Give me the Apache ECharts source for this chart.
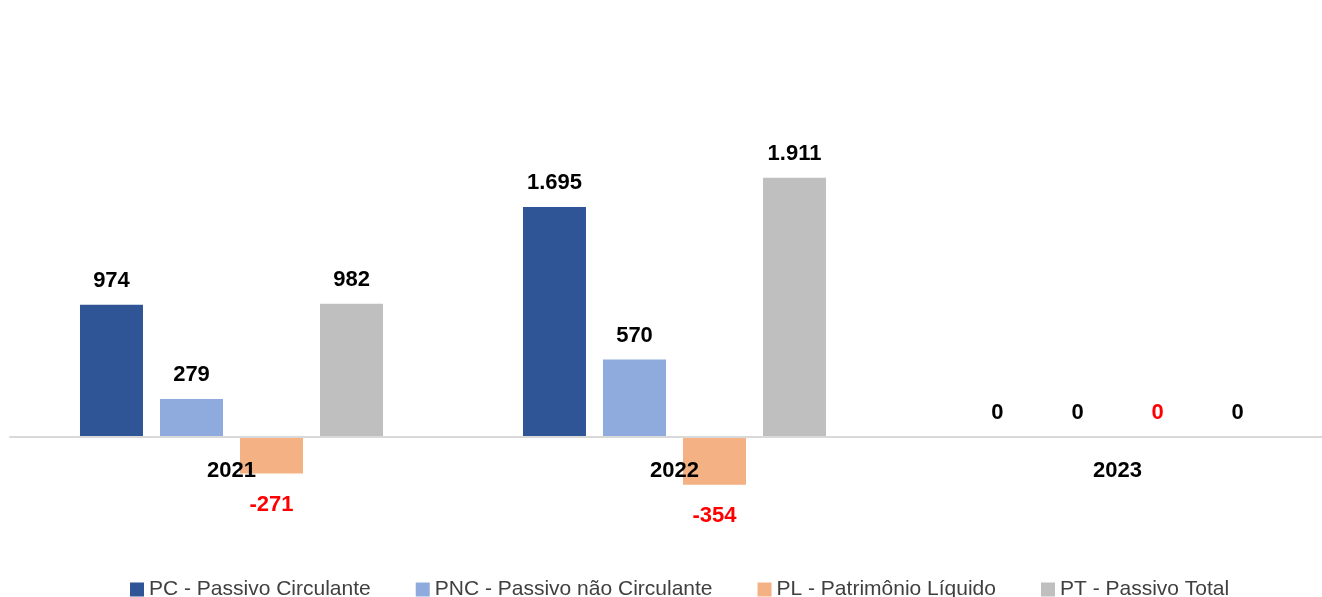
<!DOCTYPE html>
<html>
<head>
<meta charset="utf-8">
<script src="https://cdn.jsdelivr.net/npm/echarts@6/dist/echarts.min.js"></script>
<style>
  html, body { margin: 0; padding: 0; background: #fff; overflow: hidden; }
  #chart { width: 1345px; height: 597px; }
</style>
</head>
<body>
<div id="chart"></div>
<script>
const years = ["2021", "2022", "2023"];
const pcValues = [974, 1695, 0];
const pncValues = [279, 570, 0];
const plValues = [-271, -354, 0];
const ptValues = [982, 1911, 0];

const seriesNames = [
  "PC - Passivo Circulante",
  "PNC - Passivo não Circulante",
  "PL - Patrimônio Líquido",
  "PT - Passivo Total"
];
const seriesColors = ["#2F5597", "#8FAADC", "#F4B183", "#BFBFBF"];

const FONT = "Liberation Sans";

// pt-BR thousands separator
function fmt(v) {
  const neg = v < 0;
  let s = String(Math.abs(v));
  s = s.replace(/\B(?=(\d{3})+(?!\d))/g, ".");
  return (neg ? "-" : "") + s;
}

function makeSeries(name, values, color, labelColor) {
  return {
    type: "bar",
    name: name,
    barWidth: 63,
    barGap: "27%",
    itemStyle: { color: color },
    data: values.map((v) => ({
      value: v,
      label: v < 0 ? { position: "bottom", distance: 20 } : { position: "top", distance: 13 }
    })),
    label: {
      show: true,
      color: labelColor,
      fontFamily: FONT,
      fontWeight: "bold",
      fontSize: 22,
      formatter: (p) => fmt(p.value)
    }
  };
}

const option = {
  animation: false,
  grid: { left: 10, top: 98, width: 1329, height: 406.6, containLabel: false },
  legend: {
    left: 125,
    top: 574,
    icon: "rect",
    itemWidth: 14,
    itemHeight: 14,
    itemGap: 45,
    textStyle: { fontFamily: FONT, fontSize: 21, color: "#404040" },
    data: seriesNames
  },
  xAxis: {
    type: "category",
    data: years,
    z: 3,
    axisLine: { lineStyle: { color: "#D9D9D9", width: 2 } },
    axisTick: { show: false },
    axisLabel: {
      margin: -45,
      color: "#000",
      fontFamily: FONT,
      fontWeight: "bold",
      fontSize: 22
    }
  },
  yAxis: {
    type: "value",
    min: -500,
    max: 2500,
    show: false,
    splitLine: { show: false }
  },
  series: [
    makeSeries(seriesNames[0], pcValues, seriesColors[0], "#000"),
    makeSeries(seriesNames[1], pncValues, seriesColors[1], "#000"),
    makeSeries(seriesNames[2], plValues, seriesColors[2], "#FF0000"),
    makeSeries(seriesNames[3], ptValues, seriesColors[3], "#000")
  ]
};

const chart = echarts.init(document.getElementById("chart"));
chart.setOption(option);
</script>
</body>
</html>
